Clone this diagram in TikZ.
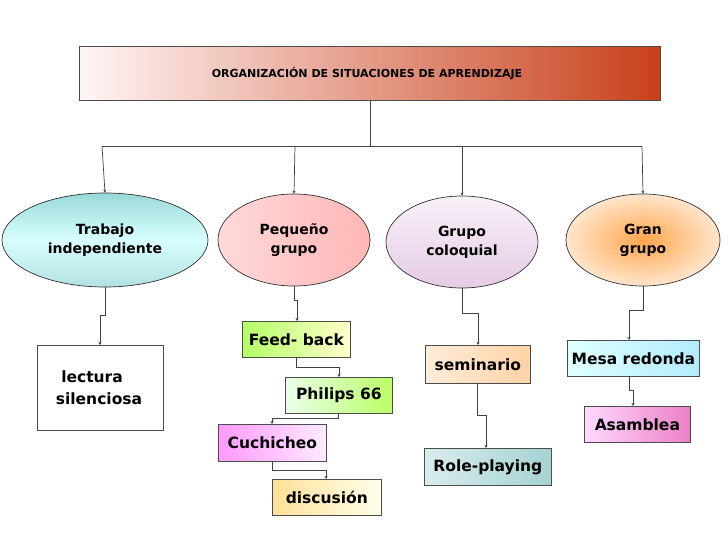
\documentclass[tikz,border=0pt]{standalone}
\usepackage{fontspec}
\setmainfont{DejaVu Sans}
\usetikzlibrary{shapes.geometric,arrows.meta}
\definecolor{tred}{RGB}{200,64,26}
\begin{document}
\begin{tikzpicture}[x=1pt,y=-1pt,
  box/.style={draw=black!70,line width=0.7pt,font=\bfseries\fontsize{15.5}{17}\selectfont,inner sep=0pt,anchor=north west},
  ell/.style={ellipse,draw=black!80,line width=0.7pt,font=\bfseries\fontsize{14}{19}\selectfont,align=center,inner sep=0pt},
  con/.style={draw=black!75,line width=0.7pt,-{Stealth[length=3pt,width=3pt]}},
  plain/.style={draw=black!75,line width=0.7pt}]
\useasboundingbox (0,0) rectangle (728,546);
\fill[white] (0,0) rectangle (728,546);
% title
\node[box,minimum width=581pt,minimum height=54pt,left color=red!4,right color=tred] (t) at (79,46) {};
\node[font=\bfseries\fontsize{11}{13}\selectfont] (tt) at (367,74) {ORGANIZACIÓN DE SITUACIONES DE APRENDIZAJE};
% ellipses
\node[ell,minimum width=206pt,minimum height=94pt,top color=cyan!25!teal!40,bottom color=cyan!20!teal!30,middle color=cyan!15] (e1) at (105,240) {Trabajo\\independiente};
\node[ell,minimum width=152pt,minimum height=92pt,left color=red!15,right color=red!30!pink!60] (e2) at (294,240) {Pequeño\\ grupo};
\node[ell,minimum width=152pt,minimum height=92pt,top color=violet!6,bottom color=violet!20] (e3) at (462,242) {Grupo\\coloquial};
\node[ell,minimum width=154pt,minimum height=92pt,inner color=orange!70,outer color=orange!20] (e4) at (643,240) {Gran\\grupo};
\coordinate (j) at (370,146);
\draw[plain] (t.south -| j) -- (j);
\draw[plain] (102,146) -- (642,146);
\draw[con] (102,146) -- (e1.north);
\draw[con] (295,146) -- (e2.north);
\draw[con] (462,146) -- (e3.north);
\draw[con] (642,146) -- (e4.north);
% boxes
\node[box,minimum width=126pt,minimum height=85pt,fill=white] (b1) at (37,345) {};
\node[font=\bfseries\fontsize{15.5}{22}\selectfont,align=left] (b1t) at (99,388) {\ lectura\\silenciosa};
\node[box,minimum width=108pt,minimum height=36pt,left color=yellow!50!green!60,right color=yellow!20] (fb) at (242,321) {Feed- back};
\node[box,minimum width=107pt,minimum height=36pt,left color=green!8,right color=green!45!yellow!60] (ph) at (285,377) {Philips 66};
\node[box,minimum width=108pt,minimum height=37pt,left color=magenta!40,right color=magenta!8] (cu) at (218,424) {Cuchicheo};
\node[box,minimum width=109pt,minimum height=36pt,left color=yellow!40!orange!40,right color=yellow!8] (di) at (272,479) {discusión};
\node[box,minimum width=105pt,minimum height=38pt,left color=orange!15,right color=orange!35] (se) at (425,345) {seminario};
\node[box,minimum width=127pt,minimum height=37pt,left color=teal!15,right color=teal!35] (rp) at (424,448) {Role-playing};
\node[box,minimum width=132pt,minimum height=36pt,left color=cyan!12,right color=blue!25!cyan!30] (mr) at (567,340) {Mesa redonda};
\node[box,minimum width=106pt,minimum height=36pt,left color=magenta!15,right color=magenta!40!purple!50] (as) at (584,406) {Asamblea};
% connectors
\draw[con] (e1.south) |- (100,315) -- (100,345);
\draw[con] (e2.south) |- (297,300) -- (297,321);
\draw[con] (296,357) |- (339,367) -- (339,377);
\draw[con] (338,413) |- (272,418) -- (272,424);
\draw[con] (272,461) |- (326,470) -- (326,479);
\draw[con] (e3.south) |- (478,313) -- (478,345);
\draw[con] (477,383) |- (486,415) -- (486,448);
\draw[con] (e4.south) |- (629,310) -- (629,340);
\draw[con] (629,376) |- (633,390) -- (633,406);
\end{tikzpicture}
\end{document}
